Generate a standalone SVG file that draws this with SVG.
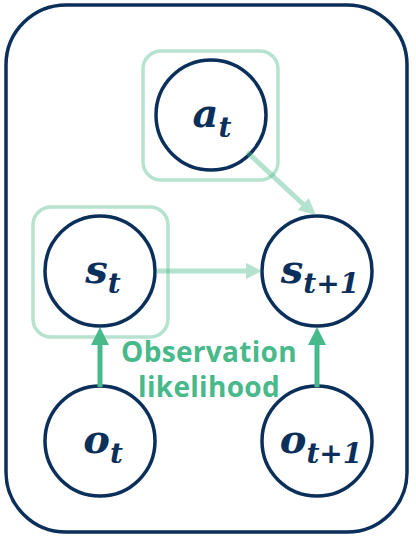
<svg xmlns="http://www.w3.org/2000/svg" width="416" height="536" viewBox="0 0 416 536">
<style>
.frame{fill:none;stroke:#0b2f5b;stroke-width:3.5}
.box{fill:none;stroke:#b5e3d0;stroke-width:3.5}
.node circle{fill:#ffffff;stroke:#0b2f5b;stroke-width:3.5}
.lbl{font-family:"DejaVu Serif","Liberation Serif",serif;font-weight:bold;font-style:italic;font-size:40px;fill:#0b2f5b;text-anchor:middle}
.sub{font-size:28px}
.light{opacity:0.4}
.light line,.dark line{stroke:#47b98a;stroke-width:5}
.light polygon,.dark polygon{fill:#47b98a}
.note{font-family:"Open Sans","Noto Sans","DejaVu Sans",sans-serif;font-weight:bold;font-size:28px;letter-spacing:0.3px;fill:#47b98a;text-anchor:middle}
</style>
<rect class="frame" x="6" y="5" width="401" height="527" rx="60" ry="60"/>
<g id="boxes">
<rect class="box" x="143" y="51" width="135" height="129" rx="18"/>
<rect class="box" x="33" y="207" width="135" height="130" rx="18"/>
</g>
<g id="node-a_t" class="node">
<circle cx="211" cy="115" r="55"/>
<text class="lbl" x="212" y="127">a<tspan class="sub" dy="10">t</tspan></text>
</g>
<g id="node-s_t" class="node">
<circle cx="100" cy="271" r="55"/>
<text class="lbl" x="103" y="283">s<tspan class="sub" dy="10">t</tspan></text>
</g>
<g id="node-s_t1" class="node">
<circle cx="317" cy="271" r="55"/>
<text class="lbl" x="320" y="283">s<tspan class="sub" dy="10">t+1</tspan></text>
</g>
<g id="node-o_t" class="node">
<circle cx="100" cy="441" r="55"/>
<text class="lbl" x="103" y="453">o<tspan class="sub" dy="10">t</tspan></text>
</g>
<g id="node-o_t1" class="node">
<circle cx="317" cy="441" r="55"/>
<text class="lbl" x="321" y="453">o<tspan class="sub" dy="10">t+1</tspan></text>
</g>
<g id="connectors">
<g class="light">
<line x1="247" y1="152" x2="304" y2="205"/>
<polygon points="316,215 297.8,209.9 308.7,198.2"/>
</g>
<g class="light">
<line x1="156" y1="271" x2="247" y2="271"/>
<polygon points="262,271 246,263 246,279"/>
</g>
<g class="dark">
<line x1="100" y1="387" x2="100" y2="343"/>
<polygon points="100,327 91,345 109,345"/>
</g>
<g class="dark">
<line x1="317" y1="387" x2="317" y2="343"/>
<polygon points="317,327 308,345 326,345"/>
</g>
</g>
<g id="label-observation">
<text class="note" x="209" y="362">Observation<tspan x="209" dy="35">likelihood</tspan></text>
</g>
</svg>
